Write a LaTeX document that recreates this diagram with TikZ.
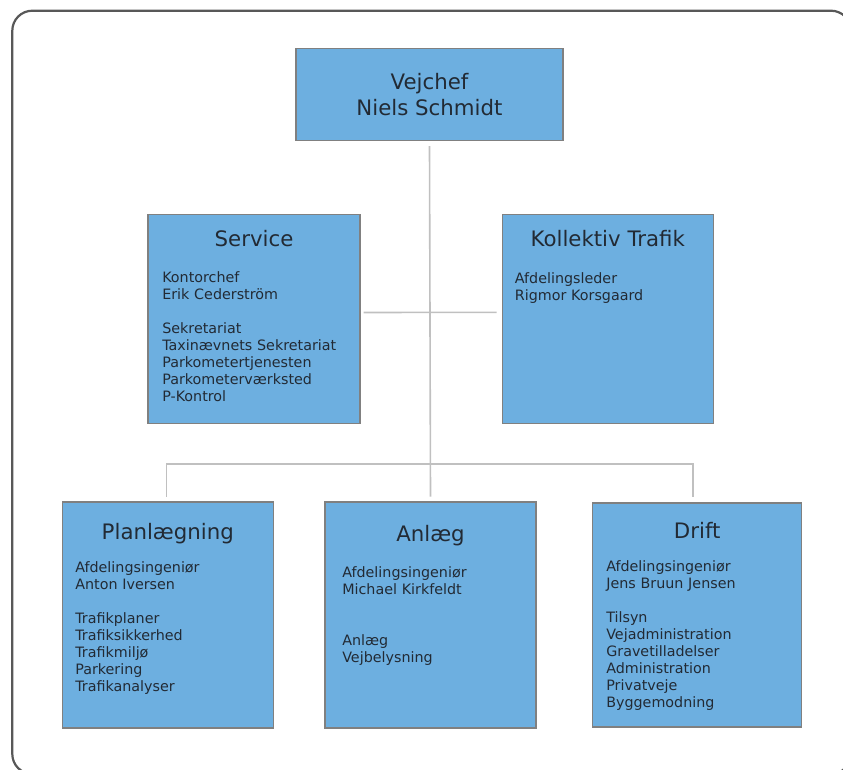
\documentclass[tikz,border=0pt]{standalone}
\usepackage{fontspec}
\setmainfont{DejaVu Sans}
\usetikzlibrary{positioning}
\definecolor{boxblue}{RGB}{109,175,224}
\definecolor{boxline}{RGB}{128,128,128}
\definecolor{wire}{RGB}{192,192,192}
\definecolor{ink}{RGB}{34,42,52}
\definecolor{framegray}{RGB}{88,88,88}
\begin{document}
\begin{tikzpicture}[x=1pt,y=-1pt,
    unit/.style args={#1x#2}{draw=boxline, line width=1.2pt, fill=boxblue, inner sep=0pt,
        minimum width=#1pt, minimum height=#2pt},
    title/.style={font=\fontsize{21.3}{25.6}\selectfont, text=ink, anchor=base, inner sep=0pt},
    body/.style={font=\fontsize{14.3}{17}\selectfont, text=ink, anchor=base west, align=left,
        text width=195pt, inner sep=0pt},
    wire/.style={draw=wire, line width=1.6pt}]
    \useasboundingbox (0,0) rectangle (843,769);
    \draw[framegray, line width=2.2pt, rounded corners=20pt] (12.3,10.7) rectangle (851,774);

    % boxes
    \node[unit=267x92, font=\fontsize{21.3}{25.6}\selectfont, text=ink, align=center] (boss) at (429.5,94.5) {Vejchef\\Niels Schmidt};
    \node[unit=212x209] (service) at (254,319) {};
    \node[unit=211x209] (kollektiv) at (607.8,318.8) {};
    \node[unit=211x226] (plan) at (167.8,615) {};
    \node[unit=211x226] (anlaeg) at (430.5,615) {};
    \node[unit=209x224] (drift) at (697.2,615) {};

    % connectors
    \coordinate (bus) at (430,464);
    \draw[wire] ([yshift=-5pt]boss.south) -- ([yshift=4.7pt]anlaeg.north);
    \draw[wire] ([xshift=3pt,yshift=6.5pt]service.east) -- ([xshift=-5pt,yshift=6.5pt]kollektiv.west);
    \draw[wire] ([xshift=-1.3pt,yshift=4.7pt]plan.north) -- ([xshift=-1.3pt]plan.north |- bus)
        -- ([xshift=-4.2pt]drift.north |- bus) -- ([xshift=-4.2pt,yshift=5.5pt]drift.north);

    % titles
    \node[title] (serviceT) at ([yshift=-33pt]service.north) {Service};
    \node[title] (kollektivT) at ([yshift=-33pt]kollektiv.north) {Kollektiv Trafik};
    \node[title] (planT) at ([yshift=-38.5pt]plan.north) {Planlægning};
    \node[title] (anlaegT) at ([yshift=-40.5pt]anlaeg.north) {Anlæg};
    \node[title] (driftT) at ([yshift=-36pt]drift.north) {Drift};

    % staff and units
    \node[body] (serviceB) at ([xshift=14.7pt,yshift=-68.7pt]service.north west)
        {Kontorchef\\Erik Cederström\\[17pt]Sekretariat\\Taxinævnets Sekretariat\\Parkometertjenesten\\Parkometerværksted\\P-Kontrol};
    \node[body] (kollektivB) at ([xshift=13pt,yshift=-70pt]kollektiv.north west)
        {Afdelingsleder\\Rigmor Korsgaard};
    \node[body] (planB) at ([xshift=13.4pt,yshift=-71.3pt]plan.north west)
        {Afdelingsingeniør\\Anton Iversen\\[17pt]Trafikplaner\\Trafiksikkerhed\\Trafikmiljø\\Parkering\\Trafikanalyser};
    \node[body] (anlaegB) at ([xshift=17.7pt,yshift=-76.3pt]anlaeg.north west)
        {Afdelingsingeniør\\Michael Kirkfeldt\\[34pt]Anlæg\\Vejbelysning};
    \node[body] (driftB) at ([xshift=14pt,yshift=-69pt]drift.north west)
        {Afdelingsingeniør\\Jens Bruun Jensen\\[17pt]Tilsyn\\Vejadministration\\Gravetilladelser\\Administration\\Privatveje\\Byggemodning};
\end{tikzpicture}
\end{document}
